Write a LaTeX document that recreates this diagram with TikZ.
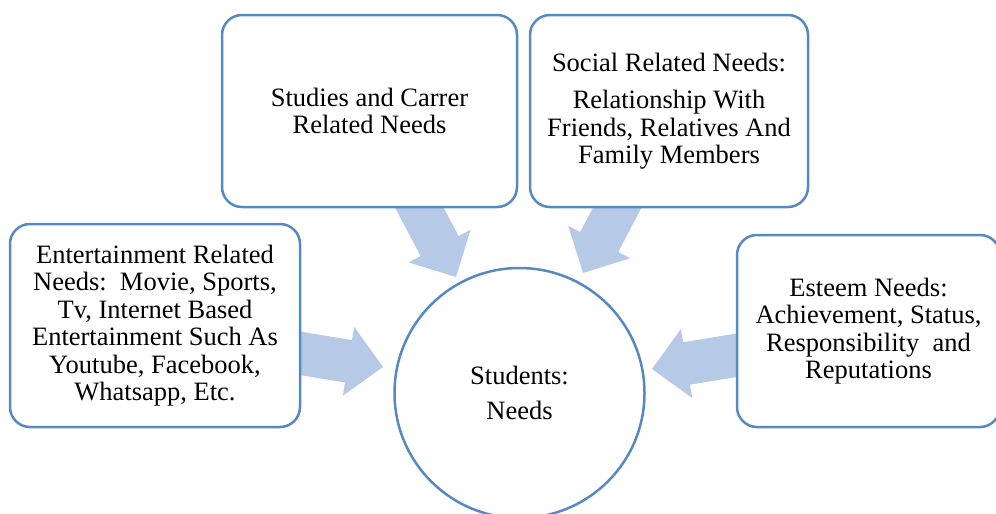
\documentclass[tikz,border=0pt]{standalone}
\usepackage{fontspec}
\setmainfont{Liberation Serif}
\usetikzlibrary{calc}
\definecolor{boxline}{HTML}{5689C2}
\definecolor{arrowfill}{HTML}{B6CAE7}
\newcommand\blockarrow[2]{%
  \path ($(#2)!35pt!(#1)$) coordinate (hb);
  \fill[arrowfill] ($(#1)!21.5pt!90:(#2)$) -- ($(hb)!21.5pt!90:(#2)$) -- ($(hb)!35pt!90:(#2)$) -- (#2)
     -- ($(hb)!35pt!-90:(#2)$) -- ($(hb)!21.5pt!-90:(#2)$) -- ($(#1)!21.5pt!-90:(#2)$) -- cycle;
}
\tikzset{
  box/.style={draw=boxline, line width=2.5pt, rounded corners=20pt, fill=white, align=center,
    font=\fontsize{26.5}{27.5}\selectfont, inner sep=0pt, rectangle},
  hub/.style={draw=boxline, line width=2.5pt, fill=white, circle, align=center,
    font=\fontsize{26.5}{27.5}\selectfont, inner sep=0pt, minimum size=250pt}
}
\begin{document}
\begin{tikzpicture}[x=1pt,y=-1pt]
\useasboundingbox (0,0) rectangle (996,514);
\clip (0,0) rectangle (996,514);
% arrow coordinates
\coordinate (a1) at (410,190); \coordinate (t1) at (456,277);
\coordinate (a2) at (627,189); \coordinate (t2) at (583,273);
\coordinate (a3) at (280,350); \coordinate (t3) at (383,367);
\coordinate (a4) at (757,352); \coordinate (t4) at (652,369);
\blockarrow{a1}{t1}
\blockarrow{a2}{t2}
\blockarrow{a3}{t3}
\blockarrow{a4}{t4}
% boxes
\node[box, minimum width=295pt, minimum height=192pt] (studies) at (369.5,111)
  {Studies and Carrer\\Related Needs};
\node[box, minimum width=278pt, minimum height=192pt] (social) at (669,111)
  {Social Related Needs:\\[10pt]Relationship With\\Friends, Relatives And\\Family Members};
\node[box, minimum width=290pt, minimum height=203pt] (ent) at (155,325.5)
  {Entertainment Related\\Needs:\ \ Movie, Sports,\\Tv, Internet Based\\Entertainment Such As\\Youtube, Facebook,\\Whatsapp, Etc.};
\node[box, minimum width=263pt, minimum height=192pt] (esteem) at (868.5,331)
  {Esteem Needs:\\Achievement, Status,\\Responsibility\ \ and\\Reputations};
\node[hub] (students) at (519.5,393) {Students:\\[8pt]Needs};
\end{tikzpicture}
\end{document}
